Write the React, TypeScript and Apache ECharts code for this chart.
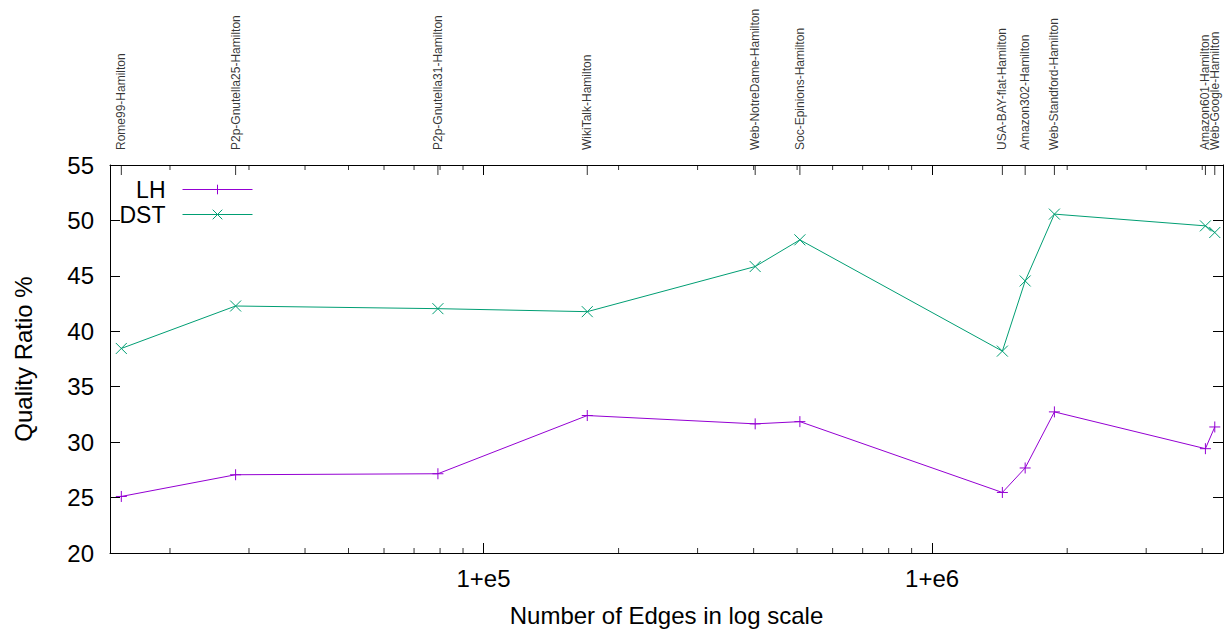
import React, { useEffect, useRef } from "react";
import * as echarts from "echarts";

const graphNames = [
  "Rome99-Hamilton",
  "P2p-Gnutella25-Hamilton",
  "P2p-Gnutella31-Hamilton",
  "WikiTalk-Hamilton",
  "Web-NotreDame-Hamilton",
  "Soc-Epinions-Hamilton",
  "USA-BAY-flat-Hamilton",
  "Amazon302-Hamilton",
  "Web-Standford-Hamilton",
  "Amazon601-Hamilton",
  "Web-Google-Hamilton",
];
const edgeCounts = [15580, 28010, 79120, 170300, 403200, 507200, 1434000, 1612000, 1873000, 4066000, 4266000];
const lhValues = [25.1, 27.06, 27.15, 32.4, 31.65, 31.85, 25.46, 27.67, 32.73, 29.41, 31.37];
const dstValues = [38.45, 42.28, 42.04, 41.77, 45.84, 48.25, 38.21, 44.54, 50.57, 49.51, 48.91];

const xMin = 14700;
const xMax = 4450000;
const yMin = 20;
const yMax = 55;
const yInterval = 5;
const majorTickValues = [1e5, 1e6];
const majorTickLabels = ["1+e5", "1+e6"];
const minorTickValues = [
  2e4, 3e4, 4e4, 5e4, 6e4, 7e4, 8e4, 9e4,
  2e5, 3e5, 4e5, 5e5, 6e5, 7e5, 8e5, 9e5,
  2e6, 3e6, 4e6,
];

const LH_COLOR = "#9400d3";
const DST_COLOR = "#009e73";
const FONT = "'Liberation Sans', Arial, sans-serif";
const PLUS = "path://M0,5L10,5M5,0L5,10";
const CROSS = "path://M0,0L10,10M10,0L0,10";

export default function App() {
  const ref = useRef<HTMLDivElement>(null);
  useEffect(() => {
    if (!ref.current) return;
    const chart = echarts.init(ref.current, null, { renderer: "svg" });
    const fmtX = (v: number) => {
      for (let i = 0; i < majorTickValues.length; i++) {
        if (Math.abs(v - majorTickValues[i]) / majorTickValues[i] < 1e-6) return majorTickLabels[i];
      }
      return "";
    };
    const axisLine = { show: true, lineStyle: { color: "#000", width: 1 } };
    const tick = { show: true, inside: true, length: 10, lineStyle: { color: "#000", width: 1 } };
    const legendBase = {
      right: 977,
      align: "right",
      itemWidth: 70,
      itemHeight: 12,
      padding: 0,
      lineStyle: { width: 1 },
      itemStyle: { borderWidth: 1 },
      textStyle: { fontSize: 23, lineHeight: 20, color: "#000", fontFamily: FONT, padding: [0, 12, 0, 0] },
      selectedMode: false,
    };
    chart.setOption({
      animation: false,
      backgroundColor: "#fff",
      textStyle: { fontFamily: FONT },
      grid: { left: 110, right: 7, top: 165, bottom: 80, show: false },
      legend: [
        { ...legendBase, data: ["LH"], top: 178 },
        { ...legendBase, data: ["DST"], top: 203 },
      ],
      xAxis: [
        {
          type: "log",
          logBase: 10,
          min: xMin,
          max: xMax,
          position: "bottom",
          axisLine,
          axisTick: tick,
          splitLine: { show: false },
          axisLabel: { formatter: fmtX, fontSize: 24, color: "#000", margin: 13, fontFamily: FONT },
          name: "Number of Edges in log scale",
          nameLocation: "middle",
          nameGap: 50,
          nameTextStyle: { fontSize: 24, color: "#000", fontFamily: FONT },
        },
        {
          type: "log",
          logBase: 10,
          min: xMin,
          max: xMax,
          position: "top",
          axisLine,
          axisTick: tick,
          splitLine: { show: false },
          axisLabel: { show: false },
        },
      ],
      yAxis: [
        {
          type: "value",
          min: yMin,
          max: yMax,
          interval: yInterval,
          position: "left",
          axisLine,
          axisTick: tick,
          splitLine: { show: false },
          axisLabel: { fontSize: 24, color: "#000", margin: 16, fontFamily: FONT },
          name: "Quality Ratio %",
          nameLocation: "middle",
          nameGap: 75,
          nameTextStyle: { fontSize: 24, color: "#000", fontFamily: FONT },
        },
        {
          type: "value",
          min: yMin,
          max: yMax,
          interval: yInterval,
          position: "right",
          axisLine,
          axisTick: tick,
          splitLine: { show: false },
          axisLabel: { show: false },
        },
      ],
      series: [
        {
          name: "LH",
          type: "line",
          data: edgeCounts.map((e, i) => [e, lhValues[i]]),
          symbol: PLUS,
          symbolSize: 11,
          lineStyle: { color: LH_COLOR, width: 1 },
          itemStyle: { color: LH_COLOR, borderColor: LH_COLOR, borderWidth: 1 },
          z: 3,
        },
        {
          name: "DST",
          type: "line",
          data: edgeCounts.map((e, i) => [e, dstValues[i]]),
          symbol: CROSS,
          symbolSize: 11,
          lineStyle: { color: DST_COLOR, width: 1 },
          itemStyle: { color: DST_COLOR, borderColor: DST_COLOR, borderWidth: 1 },
          z: 3,
        },
        {
          name: "graphLabels",
          type: "scatter",
          data: edgeCounts.map((e) => [e, yMax]),
          symbol: "rect",
          symbolSize: [1, 10],
          symbolOffset: [0, 5],
          clip: false,
          silent: true,
          itemStyle: { color: "#000" },
          label: {
            show: true,
            position: "top",
            distance: 15,
            rotate: 90,
            align: "left",
            verticalAlign: "middle",
            fontSize: 12,
            color: "#000",
            fontFamily: FONT,
            formatter: (p: any) => graphNames[p.dataIndex],
          },
        },
        {
          name: "minorBottom",
          type: "scatter",
          data: minorTickValues.map((v) => [v, yMin]),
          symbol: "rect",
          symbolSize: [1, 5],
          symbolOffset: [0, -2.5],
          clip: false,
          silent: true,
          itemStyle: { color: "#000" },
        },
        {
          name: "minorTop",
          type: "scatter",
          data: minorTickValues.map((v) => [v, yMax]),
          symbol: "rect",
          symbolSize: [1, 5],
          symbolOffset: [0, 2.5],
          clip: false,
          silent: true,
          itemStyle: { color: "#000" },
        },
      ],
    });
    return () => chart.dispose();
  }, []);
  return (
    <div
      ref={ref}
      style={{ position: "fixed", left: 0, top: 0, width: 1230, height: 633, background: "#fff" }}
    />
  );
}
